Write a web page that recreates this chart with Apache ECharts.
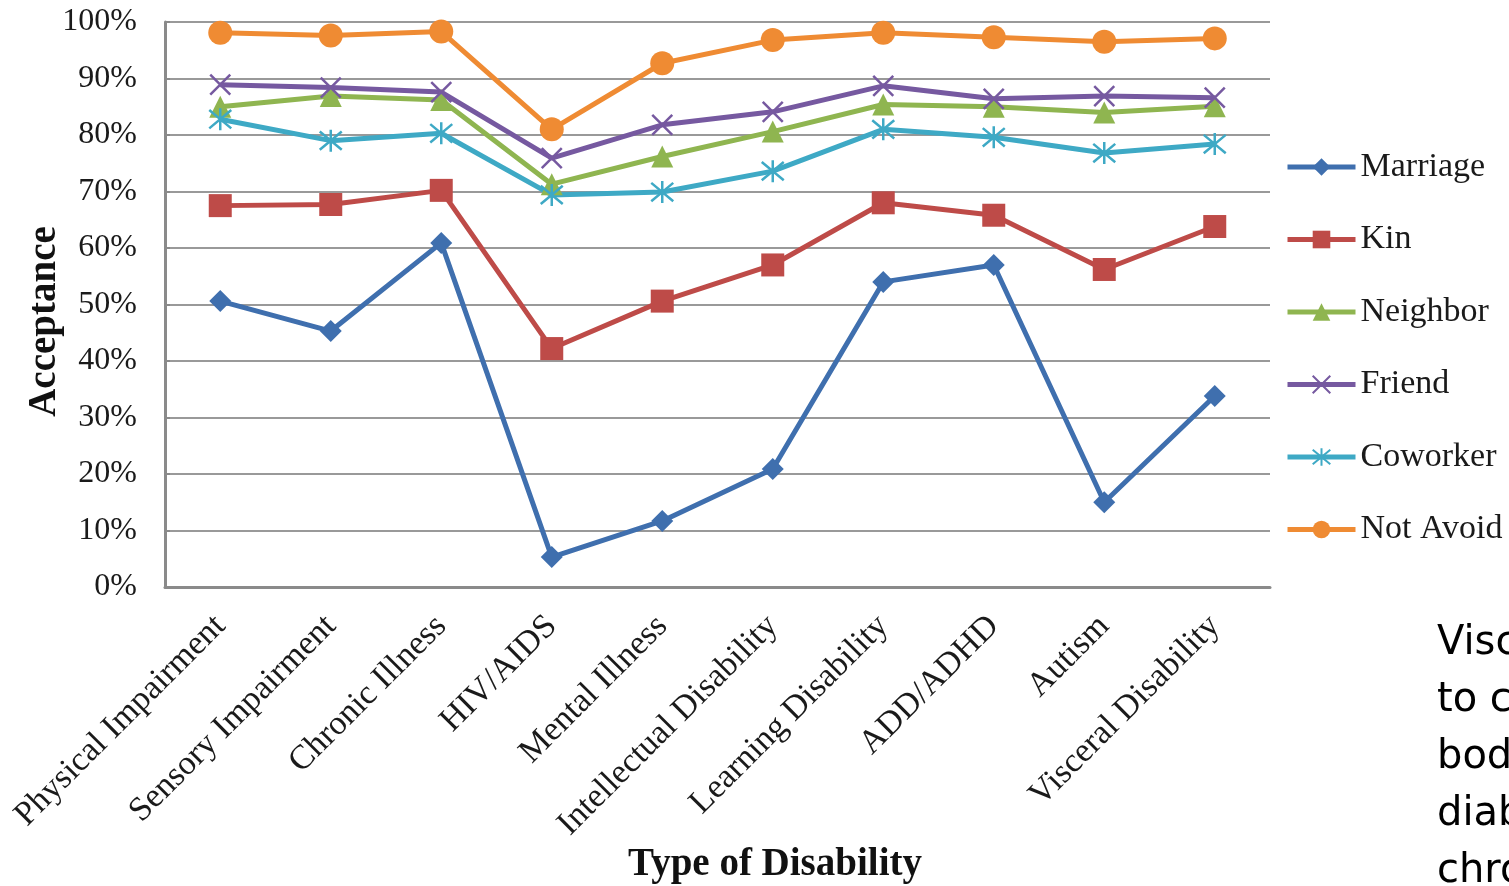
<!DOCTYPE html>
<html>
<head>
<meta charset="utf-8">
<title>Acceptance by Type of Disability</title>
<script src="https://cdn.jsdelivr.net/npm/echarts@6/dist/echarts.min.js"></script>
<style>
  html, body { margin: 0; padding: 0; background: #ffffff; }
  #chart { width: 1509px; height: 886px; }
</style>
</head>
<body>
<div id="chart"></div>
<script>
// Categories along the x axis
const categories = [
  'Physical Impairment', 'Sensory Impairment', 'Chronic Illness', 'HIV/AIDS',
  'Mental Illness', 'Intellectual Disability', 'Learning Disability',
  'ADD/ADHD', 'Autism', 'Visceral Disability'
];

// Acceptance (%) per social relationship
const marriage  = [50.6, 45.3, 60.9,  5.3, 11.7, 20.9, 54.0, 57.0, 15.0, 33.8];
const kin       = [67.5, 67.7, 70.2, 42.2, 50.6, 57.0, 68.0, 65.8, 56.2, 63.8];
const neighbor  = [85.0, 86.9, 86.2, 71.3, 76.2, 80.6, 85.4, 85.0, 84.0, 85.1];
const friend    = [88.9, 88.4, 87.6, 75.9, 81.8, 84.1, 88.7, 86.4, 86.9, 86.6];
const coworker  = [82.8, 79.0, 80.3, 69.4, 69.9, 73.6, 81.0, 79.6, 76.8, 78.4];
const notAvoid  = [98.1, 97.6, 98.3, 81.0, 92.7, 96.8, 98.1, 97.3, 96.5, 97.1];

// Y axis tick labels
const yTicks = ['0%', '10%', '20%', '30%', '40%', '50%', '60%', '70%', '80%', '90%', '100%'];

// Fragment of the page text running beside the chart
const sideText = ['Visc', 'to c', 'bod', 'diab', 'chro'];

const serif = '"Liberation Serif", "Times New Roman", serif';

const xShape = 'path://M0 0 L10 10 M10 0 L0 10';
const starShape = 'path://M0 0 L10 10 M10 0 L0 10 M5 -1 L5 11';

function makeSeries(name, data, color, symbol, size, stroked) {
  return {
    name: name,
    type: 'line',
    data: data,
    symbol: symbol,
    symbolSize: size,
    lineStyle: { color: color, width: 5 },
    itemStyle: stroked
      ? { color: 'rgba(0,0,0,0)', borderColor: color, borderWidth: 2.5 }
      : { color: color, borderWidth: 0 },
    emphasis: { disabled: true },
    z: 2
  };
}

const series = [
  makeSeries('Marriage', marriage, '#3f6fae', 'diamond', 22, false),
  makeSeries('Kin', kin, '#be4b48', 'rect', 23, false),
  makeSeries('Neighbor', neighbor, '#8fb550', 'triangle', 22, false),
  makeSeries('Friend', friend, '#7659a0', xShape, 20, true),
  makeSeries('Coworker', coworker, '#3ea9c5', starShape, 22, true),
  makeSeries('Not Avoid', notAvoid, '#ef8b33', 'circle', 24, false)
];

const chart = echarts.init(document.getElementById('chart'), null, { renderer: 'canvas' });

chart.setOption({
  animation: false,
  backgroundColor: '#ffffff',
  grid: {
    left: 165, right: 239, top: 22, bottom: 299,
    containLabel: false,
    outerBoundsMode: 'none'
  },
  legend: {
    orient: 'vertical',
    left: 1285,
    top: 150,
    padding: 0,
    itemWidth: 68,
    itemHeight: 22,
    itemGap: 38.5,
    lineStyle: { width: 5 },
    textStyle: { fontFamily: serif, fontSize: 34, color: '#1a1a1a' },
    data: series.map(s => s.name)
  },
  xAxis: {
    type: 'category',
    data: categories,
    boundaryGap: true,
    axisLine: { lineStyle: { color: '#8a8a8a', width: 3 } },
    axisTick: { show: false },
    axisLabel: {
      rotate: 45,
      margin: 34,
      interval: 0,
      fontFamily: serif,
      fontSize: 34,
      color: '#1a1a1a'
    },
    name: 'Type of Disability',
    nameLocation: 'middle',
    nameMoveOverlap: false,
    nameGap: 258,
    nameTextStyle: {
      fontFamily: serif,
      fontSize: 39,
      fontWeight: 'bold',
      color: '#111',
      padding: [0, 0, 0, 115]
    }
  },
  yAxis: {
    type: 'value',
    min: 0,
    max: 100,
    interval: 10,
    axisLine: { show: true, lineStyle: { color: '#8a8a8a', width: 3 } },
    axisTick: { show: true, inside: true, length: 5, lineStyle: { color: '#8a8a8a', width: 2 } },
    splitLine: { lineStyle: { color: '#999999', width: 2 } },
    axisLabel: {
      margin: 28,
      fontFamily: serif,
      fontSize: 32,
      color: '#1a1a1a',
      formatter: v => yTicks[Math.round(v / 10)]
    },
    name: 'Acceptance',
    nameLocation: 'middle',
    nameMoveOverlap: false,
    nameGap: 101,
    nameTextStyle: {
      fontFamily: serif,
      fontSize: 39,
      fontWeight: 'bold',
      color: '#111',
      padding: [0, 34, 0, 0]
    }
  },
  series: series,
  graphic: sideText.map((t, i) => ({
    type: 'text',
    left: 1437,
    top: 624 + i * 57,
    silent: true,
    style: {
      text: t,
      fontFamily: '"DejaVu Sans", Verdana, sans-serif',
      fontSize: 40,
      fill: '#000'
    }
  }))
});
</script>
</body>
</html>
